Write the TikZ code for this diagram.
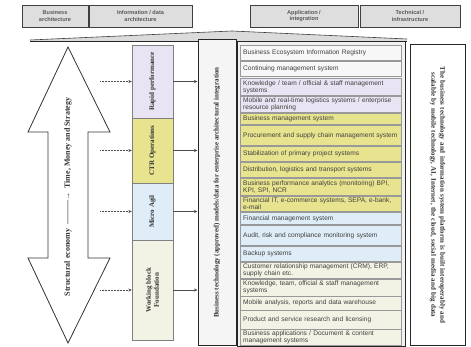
\documentclass[tikz,border=0pt]{standalone}
\usepackage{fontspec}
\setmainfont{Liberation Serif}
\newfontfamily\lsans{Liberation Sans}
\usetikzlibrary{arrows.meta}
\definecolor{lav}{RGB}{233,228,243}
\definecolor{yel}{RGB}{231,227,142}
\definecolor{blu}{RGB}{222,237,247}
\definecolor{bei}{RGB}{243,243,229}
\definecolor{hgray}{RGB}{222,222,222}
\newcommand{\rowfont}{\lsans\fontsize{6.6}{7.2}\selectfont\hyphenpenalty=10000\exhyphenpenalty=10000}
\newcommand{\listrow}[5]{%
  \node[rowbox, fill=#4, anchor=north west, minimum height=#3pt] (#1) at (240,#2) {#5};}
\begin{document}
\begin{tikzpicture}[x=1pt,y=-1pt,
  hdr/.style={draw=black!75, line width=0.9pt, fill=hgray, minimum height=22pt, align=center,
    font=\lsans\bfseries\fontsize{5.6}{6.2}\selectfont, text=black!65, inner sep=1pt},
  rowbox/.style={draw=black!40, line width=0.4pt, text width=155pt, align=left,
    inner xsep=3pt, inner ysep=0.5pt, font=\rowfont, text=black!75},
  frame/.style={draw=black!85, line width=1pt},
  vlab/.style={rotate=90, font=\bfseries\fontsize{7}{7.8}\selectfont, text=black!80, align=center},
  conn/.style={-{Stealth[length=3.5pt,width=3pt]}, line width=0.5pt, draw=black!70},
  dotconn/.style={conn, densely dotted},
]
\useasboundingbox (0,0) rectangle (471,347);
\fill[white] (0,0) rectangle (471,347);

% headers
\node[hdr, minimum width=66pt] (h1) at (55,16) {Business\\architecture};
\node[hdr, minimum width=103pt] (h2) at (140.5,16) {Information / data\\architecture};
\node[hdr, minimum width=108pt] (h3) at (304,16) {Application /\\integration};
\node[hdr, minimum width=100pt] (h4) at (410,16) {Technical /\\infrastructure};

% roof
\fill[black!14] (30,40) -- (232,31) -- (407,39) -- (407,41.5) -- (30,41.5) -- cycle;
\draw[black!75, line width=0.6pt] (30,40) -- (232,31) -- (407,39);
\draw[black!85, line width=1pt] (30,41.5) -- (407,41.5);

% double arrow
\draw[black!80, line width=0.8pt, fill=white]
  (68,47) -- (110,132) -- (88,132) -- (88,258) -- (110,258) -- (68,343)
  -- (28,258) -- (48,258) -- (48,132) -- (28,132) -- cycle;
\node[vlab, font=\bfseries\fontsize{8}{9}\selectfont] (at) at (68,197) {Structural economy \ ———→\ \ Time, Money and Strategy};

% colored column
\node[draw=black!50, fill=lav, minimum width=41pt, minimum height=73pt] (c1) at (152.5,81.5) {};
\node[draw=black!50, fill=yel, minimum width=41pt, minimum height=65pt] (c2) at (152.5,150.5) {};
\node[draw=black!50, fill=blu, minimum width=41pt, minimum height=57pt] (c3) at (152.5,211.5) {};
\node[draw=black!50, fill=bei, minimum width=41pt, minimum height=100pt] (c4) at (152.5,290) {};
\node[vlab] (l1) at (c1) {Rapid performance};
\node[vlab] (l2) at (c2) {CTR Operations};
\node[vlab] (l3) at (c3) {Micro Agil};
\node[vlab] (l4) at (c4) {Working block\\Foundation};

% tall middle box
\node[frame, fill=black!4, minimum width=38pt, minimum height=305pt] (t) at (217,192.5) {};
\node[vlab] (tl) at (t) {Business technology (approved) models/data for enterprise architectural integration};

% list frame
\node[frame, fill=black!5, minimum width=168pt, minimum height=304pt] (L) at (321,194) {};
\listrow{r1}{45}{15}{black!3}{Business Ecosystem Information Registry}
\listrow{r2}{61}{15}{black!3}{Continuing management system}
\listrow{r3}{78}{17.5}{lav}{Knowledge / team / official \& staff management systems}
\listrow{r4}{96}{16.5}{lav}{Mobile and real-time logistics systems / enterprise resource planning}
\listrow{r5}{113}{11.5}{yel}{Business management system}
\listrow{r6}{125}{20.5}{yel}{Procurement and supply chain management system}
\listrow{r7}{146}{15.5}{yel}{Stabilization of primary project systems}
\listrow{r8}{162}{15.5}{yel}{Distribution, logistics and transport systems}
\listrow{r9}{178}{17.5}{yel}{Business performance analytics (monitoring) BPI, KPI, SPI, NCR}
\listrow{r10}{196}{15.5}{yel}{Financial IT, e-commerce systems, SEPA, e-bank, e-mail}
\listrow{r11}{212}{12.5}{blu}{Financial management system}
\listrow{r12}{225}{20.5}{blu}{Audit, risk and compliance monitoring system}
\listrow{r13}{246}{15.5}{blu}{Backup systems}
\listrow{r14}{262}{16.5}{bei}{Customer relationship management (CRM), ERP, supply chain etc.}
\listrow{r15}{279}{16.5}{bei}{Knowledge, team, official \& staff management systems}
\listrow{r16}{296}{13.5}{bei}{Mobile analysis, reports and data warehouse}
\listrow{r17}{310}{18.5}{bei}{Product and service research and licensing}
\listrow{r18}{329}{15.5}{bei}{Business applications / Document \& content management systems}

% right box
\node[frame, fill=white, minimum width=55pt, minimum height=300pt] (R) at (437.5,195) {};
\node[rotate=-90, text width=284pt, align=center, font=\bfseries\fontsize{7}{9}\selectfont, text=black!80] (Rl) at (R)
  {The business technology and information system platform is built interoperably and scalable by mobile technology, AI, Internet, the cloud, social media and big data};

% connectors
\foreach \i in {1,2,3,4}{
  \coordinate (d\i) at (100,0 |- c\i.center);
  \draw[dotconn] (d\i) -- (d\i -| c\i.west);
  \draw[conn] (c\i.east) -- (c\i.east -| t.west);
}
\end{tikzpicture}
\end{document}
